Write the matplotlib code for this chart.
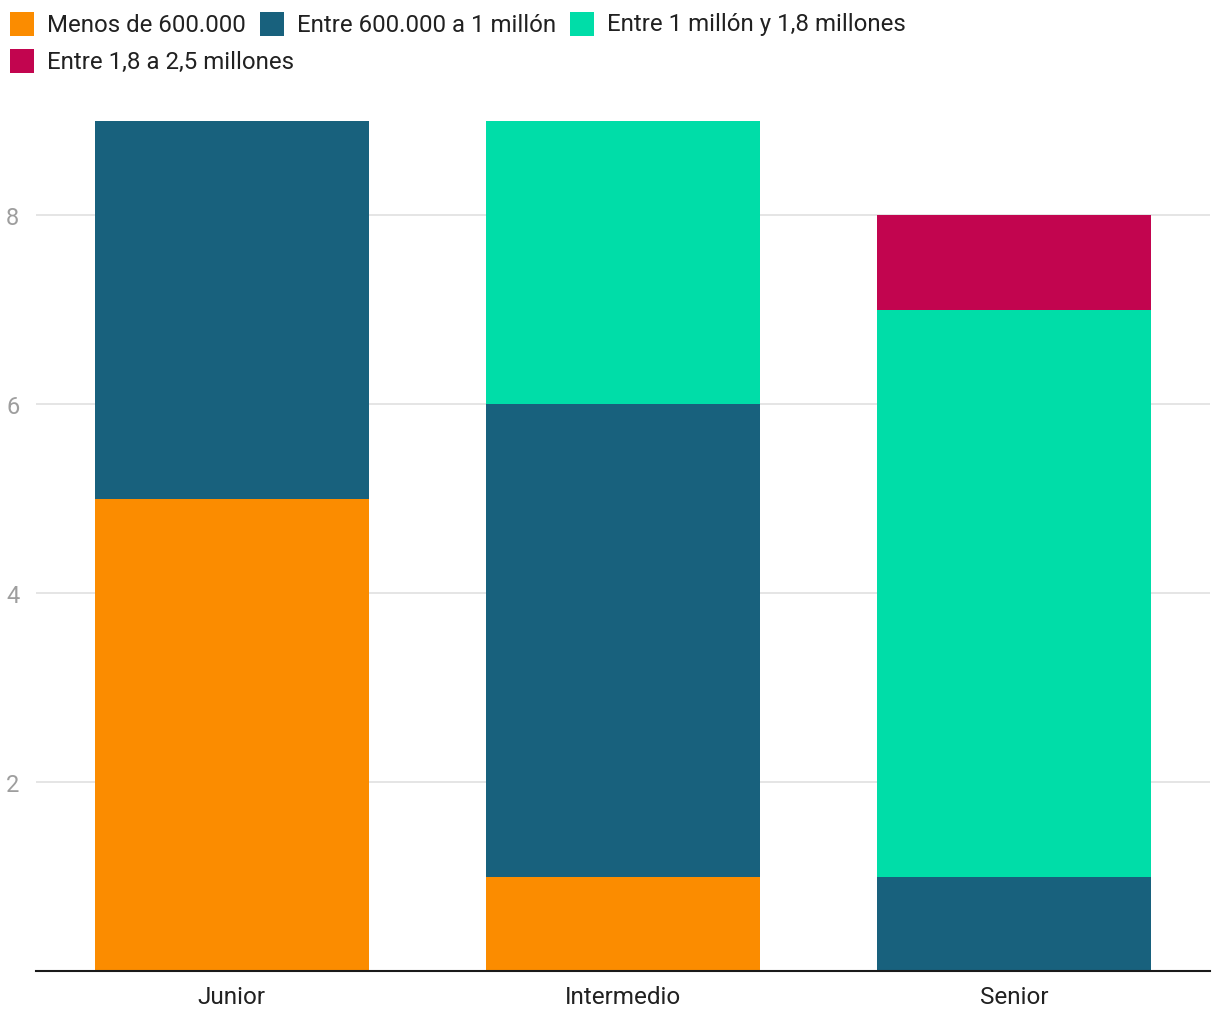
import matplotlib
matplotlib.use("Agg")
import matplotlib.pyplot as plt
from matplotlib.patches import Rectangle
import numpy as np

plt.rcParams["font.family"] = ["Roboto", "DejaVu Sans"]

# ── data ──────────────────────────────────────────────────────────────
categories = ["Junior", "Intermedio", "Senior"]
series_names = [
    "Menos de 600.000",
    "Entre 600.000 a 1 millón",
    "Entre 1 millón y 1,8 millones",
    "Entre 1,8 a 2,5 millones",
]
menos_600k = [5, 1, 0]
entre_600k_1m = [4, 5, 1]
entre_1m_18m = [0, 3, 6]
entre_18m_25m = [0, 0, 1]
y_ticks = [2, 4, 6, 8]

COLORS = ["#FB8C00", "#18617D", "#00DDA8", "#C2054F"]
TXT = "#212121"
W, H = 1220, 1020

fig = plt.figure(figsize=(W / 100, H / 100), dpi=100, facecolor="white")
ax = fig.add_axes([36 / W, 1 - 972 / H, (1210 - 36) / W, (972 - 122) / H])

x = np.arange(len(categories))
bottom = np.zeros(len(categories))
for vals, col in zip([menos_600k, entre_600k_1m, entre_1m_18m, entre_18m_25m], COLORS):
    ax.bar(x, vals, width=0.70, bottom=bottom, color=col, linewidth=0, zorder=2)
    bottom += np.array(vals)

ax.set_xlim(-0.5, len(categories) - 0.5)
ax.set_ylim(0, 9)
ax.set_yticks(y_ticks)
ax.set_xticks(x)
ax.set_xticklabels(categories, fontsize=17.5, color=TXT)
ax.tick_params(axis="x", length=0, pad=10)
ax.tick_params(axis="y", length=0, pad=12, labelsize=17, labelcolor="#9E9E9E")
ax.yaxis.grid(True, color="#E0E0E0", linewidth=1.2, zorder=0)
ax.set_axisbelow(True)
for s in ["top", "right", "left"]:
    ax.spines[s].set_visible(False)
ax.spines["bottom"].set_color("#1A1A1A")
ax.spines["bottom"].set_linewidth(1.5)
ax.spines["bottom"].set_zorder(3)

# legend, flowing left to right like the original
legend_pos = [(10, 25), (260, 25), (570, 25), (10, 62)]
for (px, py), name, col in zip(legend_pos, series_names, COLORS):
    fig.patches.append(Rectangle((px / W, 1 - (py + 12) / H), 24 / W, 24 / H,
                                 transform=fig.transFigure, facecolor=col,
                                 edgecolor="none"))
    fig.text((px + 37) / W, 1 - py / H, name, fontsize=17.3, color=TXT,
             va="center", ha="left")

fig.savefig("out.png", dpi=100, facecolor="white")
